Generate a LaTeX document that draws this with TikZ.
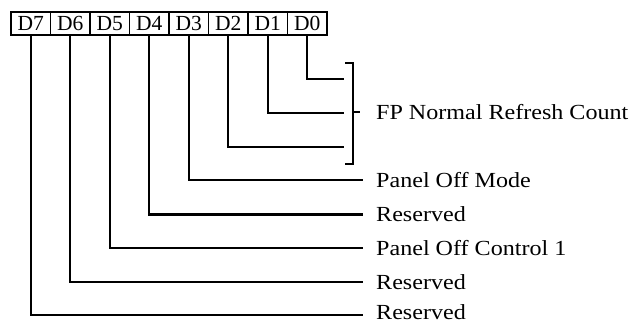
\documentclass[tikz,border=0pt]{standalone}
\usepackage{fontspec}
\setmainfont{Liberation Serif}
\newfontfamily\lblfont[FakeStretch=1.12]{Liberation Serif}
\begin{document}
\begin{tikzpicture}[x=1pt,y=-1pt,
  bitbox/.style={draw,line width=1.8pt,minimum width=39.5pt,minimum height=23pt,inner sep=0pt,font=\fontsize{21.5}{21.5}\selectfont},
  lead/.style={line width=2.2pt},
  lbl/.style={anchor=base west,inner sep=0pt,text depth=0pt,font=\lblfont\fontsize{21.5}{21.5}\selectfont}]
\useasboundingbox (0,0) rectangle (635,324);
\foreach \i in {7,...,0}{
  \node[bitbox] (b\i) at ({11+39.5*(7-\i)+19.75},23.5) {D\i};
}
% end points
\coordinate (e0) at (344,79);
\coordinate (e1) at (344,113);
\coordinate (e2) at (344,147);
\coordinate (e3) at (363,180);
\coordinate (e4) at (363,214.5);
\coordinate (e5) at (363,248);
\coordinate (e6) at (363,282);
\coordinate (e7) at (363,315);
\foreach \i in {0,...,7}{
  \draw[lead] (b\i.south) |- (e\i);
}
% bracket
\coordinate (bt) at (345,63);
\coordinate (bb) at (345,164);
\coordinate (bm) at (353,112);
\coordinate (bmt) at (360,112);
\draw[lead] (bt) -- ++(8,0) -- ++(0,101) -- (bb);
\draw[lead] (bm) -- (bmt);
\node[lbl] (t0) at (376,119.5) {FP Normal Refresh Count};
\node[lbl] (t3) at (376,187.5) {Panel Off Mode};
\node[lbl] (t4) at (376,221.5) {Reserved};
\node[lbl] (t5) at (376,255.5) {Panel Off Control 1};
\node[lbl] (t6) at (376,289) {Reserved};
\node[lbl] (t7) at (376,319) {Reserved};
\end{tikzpicture}
\end{document}
